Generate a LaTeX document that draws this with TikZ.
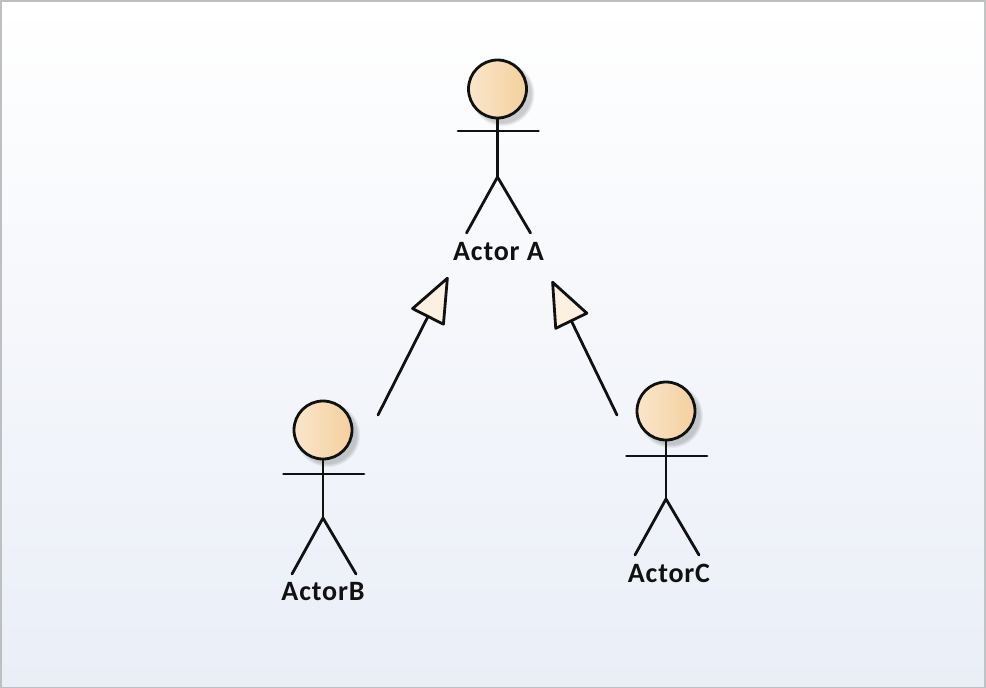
\documentclass[tikz,border=0pt]{standalone}
\usepackage{fontspec}
\setmainfont{Carlito}
\usetikzlibrary{arrows.meta}
\definecolor{frameg}{HTML}{BDBFC0}
\definecolor{bgtop}{HTML}{FFFFFF}
\definecolor{bgbot}{HTML}{EAEEF7}
\definecolor{headl}{HTML}{FAE6CC}
\definecolor{headr}{HTML}{F4D09C}
\definecolor{tipfill}{HTML}{FCF1E0}
\definecolor{ink}{HTML}{111111}
\tikzset{
  x=1pt,y=-1pt,
  limb/.style={draw=ink,line width=2.8pt,line cap=round},
  actorhead/.style={circle,draw=ink,line width=2.8pt,minimum size=58pt,inner sep=0pt,left color=headl,right color=headr},
  shadowc/.style={circle,fill=black,opacity=0.05,inner sep=0pt,draw=none},
  actorname/.style={font=\bfseries,inner sep=0pt,text=ink},
  general/.style={draw=ink,line width=2.8pt,line cap=round,-{Triangle[open,fill=tipfill,length=48pt,width=38pt,line width=2.8pt,round]}}
}
\newcommand{\actorfig}[6]{%
  \begin{scope}[shift={(#2,#3)}]
    \foreach \rr in {64,62,60,58}{\node[shadowc,minimum size=\rr pt] at (5,5) {};}
    \node[actorhead] (#1head) at (0,0) {};
    \coordinate (#1neck) at (0,30);
    \coordinate (#1hip) at (0,88);
    \coordinate (#1armL) at (-39.5,#6);
    \coordinate (#1armR) at (41,#6);
    \coordinate (#1footL) at (-31,144);
    \coordinate (#1footR) at (33,144);
    \draw[limb] (#1neck) -- (#1hip);
    \draw[limb] (#1armL) -- (#1armR);
    \draw[limb] (#1footL) -- (#1hip) -- (#1footR);
    \node[actorname] (#1label) at (#5) {\fontsize{28}{30}\addfontfeature{LetterSpace=3}\selectfont #4};
  \end{scope}}
\begin{document}
\begin{tikzpicture}
\useasboundingbox (0,0) rectangle (986,688);
\fill[frameg] (0,0) rectangle (986,688);
\shade[top color=bgtop,bottom color=bgbot] (2,2) rectangle (984,686);
\actorfig{a}{497.5}{89}{Actor A}{1,163}{42}
\actorfig{b}{323}{430}{ActorB}{0,162}{44}
\actorfig{c}{666}{411}{ActorC}{3,162}{45}
\coordinate (bstart) at (378,415);
\coordinate (btip) at (448,277);
\coordinate (cstart) at (617,415);
\coordinate (ctip) at (552,281);
\draw[general] (bstart) -- (btip);
\draw[general] (cstart) -- (ctip);
\end{tikzpicture}
\end{document}
